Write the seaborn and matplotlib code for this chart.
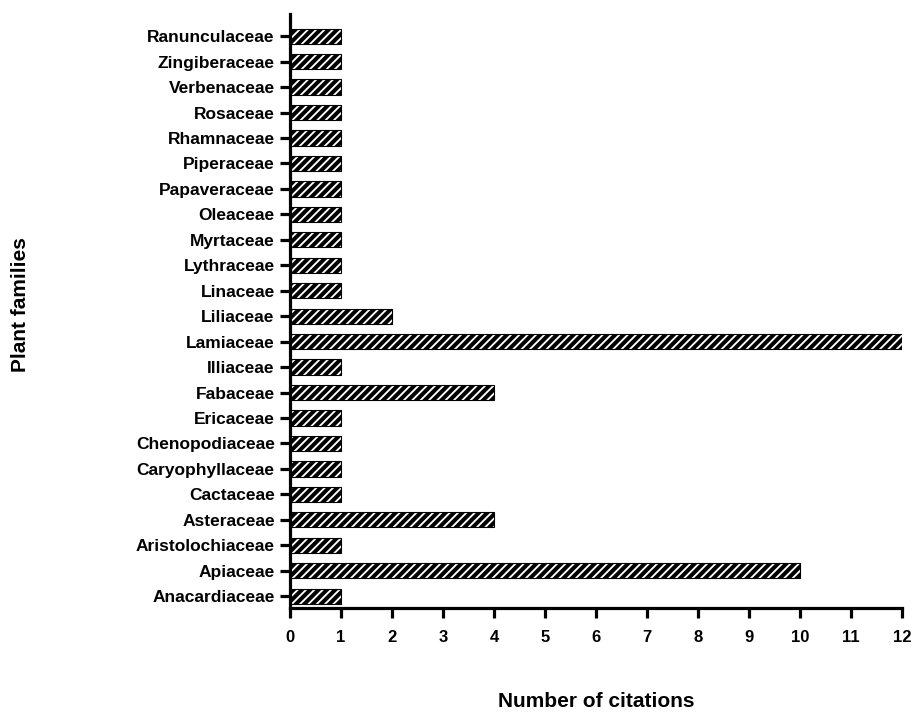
import numpy as np
import pandas as pd
import matplotlib
matplotlib.use('Agg')
import matplotlib.pyplot as plt
import seaborn as sns

families = ['Ranunculaceae', 'Zingiberaceae', 'Verbenaceae', 'Rosaceae', 'Rhamnaceae',
            'Piperaceae', 'Papaveraceae', 'Oleaceae', 'Myrtaceae', 'Lythraceae',
            'Linaceae', 'Liliaceae', 'Lamiaceae', 'Illiaceae', 'Fabaceae', 'Ericaceae',
            'Chenopodiaceae', 'Caryophyllaceae', 'Cactaceae', 'Asteraceae',
            'Aristolochiaceae', 'Apiaceae', 'Anacardiaceae']
citations = [1, 1, 1, 1, 1, 1, 1, 1, 1, 1, 1, 2, 12, 1, 4, 1, 1, 1, 1, 4, 1, 10, 1]
xticks = list(range(0, 13))

df = pd.DataFrame({'family': families, 'n': citations})

sns.set_style('ticks')
plt.rcParams['font.family'] = ['Liberation Sans', 'DejaVu Sans']
plt.rcParams['hatch.linewidth'] = 2.9
plt.rcParams['hatch.color'] = 'black'
plt.rcParams['text.color'] = 'black'
plt.rcParams['axes.labelcolor'] = 'black'
plt.rcParams['xtick.color'] = 'black'
plt.rcParams['ytick.color'] = 'black'
plt.rcParams['axes.edgecolor'] = 'black'

fig = plt.figure(figsize=(9.13, 7.13), dpi=100)
ax = fig.add_axes([0.3176, 0.147, 0.988 - 0.3176, 0.833])

sns.barplot(data=df, x='n', y='family', orient='h', order=families,
            color='white', edgecolor='black', linewidth=0.8, width=0.6, ax=ax)
for p in ax.patches:
    p.set_hatch('////')
    p.set_edgecolor('black')

ax.set_xlim(0, 12)
ax.set_ylim(22.47, -0.86)
ax.set_xticks(xticks)
ax.set_xticklabels([str(t) for t in xticks], fontsize=12, fontweight='bold')
for lbl in ax.get_yticklabels():
    lbl.set_fontsize(12.5)
    lbl.set_fontweight('bold')

sns.despine(ax=ax)
for s in ['left', 'bottom']:
    ax.spines[s].set_linewidth(2.3)
ax.tick_params(axis='both', width=2.3, length=7, direction='out', pad=4)
ax.tick_params(axis='x', pad=9)

ax.set_xlabel('Number of citations', fontsize=15, fontweight='bold')
ax.set_ylabel('Plant families', fontsize=15, fontweight='bold')
ax.xaxis.set_label_coords(0.5, -0.141)
ax.yaxis.set_label_coords(-0.425, 0.512)

fig.savefig('out.png', dpi=100)
